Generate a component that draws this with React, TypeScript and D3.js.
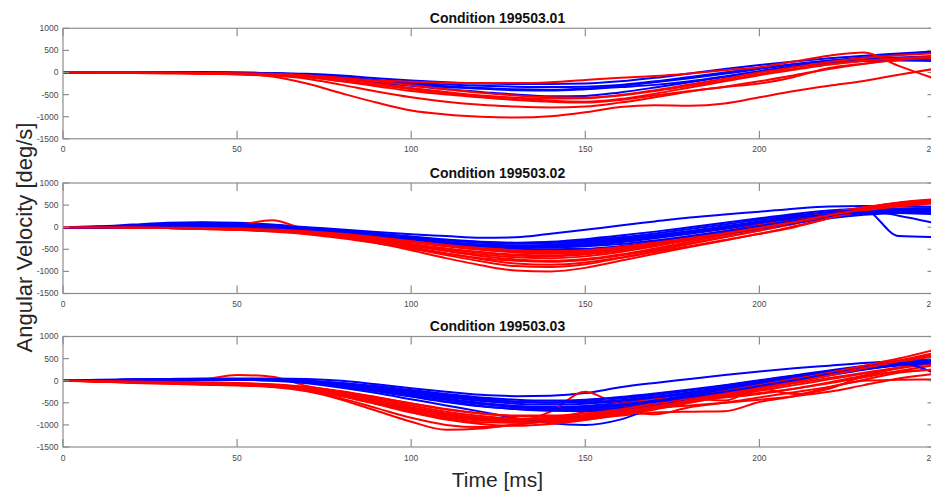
import React from 'react';
import * as d3 from 'd3';

// ---- data ----
const TIME = [0, 10, 20, 30, 40, 50, 60, 70, 80, 90, 100, 110, 120, 130, 140, 150, 160, 170, 180, 190, 200, 210, 220, 230, 240, 250];
const X_TICKS = [0, 50, 100, 150, 200, 250];
const Y_TICKS = [-1500, -1000, -500, 0, 500, 1000];
const TITLES = ['Condition 199503.01', 'Condition 199503.02', 'Condition 199503.03'];

const COND1_RED = [
  [0, 0, -5, -10, -20, -40, -90, -250, -470, -680, -860, -950, -1000, -1020, -990, -900, -780, -740, -750, -700, -560, -420, -300, -190, -50, 80],
  [0, 0, 0, -10, -20, -40, -70, -140, -280, -430, -560, -660, -730, -770, -790, -770, -680, -560, -430, -320, -200, -60, 80, 200, 300, 360],
  [0, 0, -5, -10, -20, -30, -50, -100, -200, -310, -420, -500, -560, -620, -660, -680, -620, -520, -420, -330, -250, -100, 100, 200, 280, 330],
  [0, 0, 0, -10, -10, -20, -40, -80, -150, -250, -350, -440, -520, -580, -640, -660, -600, -480, -340, -200, -60, 60, 180, 270, 330, 380],
  [0, 0, 0, 0, -10, -20, -40, -90, -140, -180, -210, -230, -240, -240, -220, -170, -120, -80, -20, 50, 120, 250, 380, 450, 150, -130],
  [0, 0, -10, -20, -30, -40, -60, -110, -190, -280, -380, -470, -530, -570, -590, -580, -520, -420, -300, -180, -40, 80, 180, 260, 320, 350],
  [0, 0, 0, -10, -10, -20, -30, -60, -120, -200, -290, -380, -460, -520, -560, -570, -510, -400, -270, -140, 0, 120, 240, 330, 390, 430],
];
const COND1_BLUE = [
  [0, 0, 0, 0, 0, 0, -10, -30, -70, -130, -180, -220, -250, -260, -260, -250, -200, -120, -20, 80, 170, 250, 320, 380, 430, 480],
  [0, 0, 0, 0, 0, -10, -30, -80, -150, -230, -300, -380, -440, -500, -540, -530, -450, -340, -220, -100, 20, 130, 220, 280, 300, 280],
  [0, 0, 0, 0, 0, -10, -20, -60, -130, -200, -270, -330, -370, -400, -410, -380, -330, -280, -200, -90, 30, 140, 220, 260, 270, 260],
  [0, 0, 0, 0, 0, 0, -20, -50, -100, -170, -230, -270, -300, -320, -330, -320, -280, -200, -100, 0, 100, 190, 270, 340, 400, 450],
  [0, 0, 0, 0, 0, -10, -20, -50, -110, -180, -250, -310, -350, -380, -390, -360, -300, -220, -130, -30, 80, 180, 260, 310, 340, 350],
];

const COND2_RED = [
  [0, 0, -10, -20, -40, -60, -90, -140, -230, -360, -520, -700, -860, -980, -1000, -920, -760, -600, -450, -300, -150, 0, 200, 400, 550, 620],
  [0, 0, -10, -20, -30, -50, -80, -130, -220, -340, -480, -630, -770, -880, -900, -840, -700, -540, -380, -230, -80, 80, 260, 430, 560, 630],
  [0, 0, -10, -10, -20, 40, 160, -60, -170, -280, -400, -520, -620, -680, -700, -660, -560, -430, -290, -150, 0, 150, 300, 440, 540, 600],
  [0, 0, -10, -20, -30, -40, -70, -120, -200, -300, -420, -540, -650, -730, -760, -720, -620, -480, -330, -180, -40, 100, 260, 400, 500, 560],
  [0, 0, -10, -20, -30, -50, -80, -130, -200, -290, -390, -490, -580, -640, -660, -620, -530, -410, -280, -140, 0, 140, 290, 420, 510, 570],
  [0, 0, 0, -10, -20, -40, -70, -110, -170, -250, -340, -430, -510, -570, -600, -580, -500, -380, -250, -110, 30, 170, 310, 430, 520, 580],
  [0, 0, -10, -20, -40, -60, -100, -160, -250, -360, -480, -600, -700, -760, -780, -740, -640, -510, -370, -220, -70, 80, 240, 390, 510, 580],
  [0, 0, 0, -10, -20, -30, -60, -100, -160, -240, -330, -420, -490, -540, -560, -530, -450, -340, -220, -90, 50, 190, 330, 440, 510, 550],
  [0, 0, -10, -20, -30, -50, -80, -120, -190, -280, -380, -480, -560, -620, -640, -600, -510, -390, -260, -130, 10, 160, 320, 450, 550, 610],
  [0, 0, -10, -10, -20, -40, -60, -100, -160, -240, -320, -400, -470, -520, -540, -520, -460, -370, -260, -140, -20, 110, 250, 380, 470, 530],
  [0, 0, -10, -20, -30, -50, -80, -130, -210, -320, -450, -590, -720, -820, -850, -800, -690, -560, -430, -290, -150, 20, 200, 380, 520, 600],
  [0, 0, 0, -10, -20, -30, -50, -90, -150, -230, -320, -420, -500, -560, -580, -560, -490, -390, -270, -150, -20, 120, 270, 400, 490, 540],
];
const COND2_BLUE = [
  [0, 20, 60, 100, 110, 100, 60, 0, -50, -110, -160, -200, -240, -230, -150, -60, 40, 130, 220, 290, 350, 420, 470, 480, 470, 460],
  [0, 10, 40, 80, 100, 90, 50, -10, -80, -150, -220, -290, -340, -360, -330, -270, -190, -100, 0, 100, 200, 300, 380, 420, 400, 380],
  [0, 0, 20, 40, 50, 40, 10, -40, -110, -190, -270, -340, -400, -420, -400, -350, -280, -190, -90, 20, 130, 240, 330, 380, 400, 390],
  [0, 0, 0, 10, 10, 0, -30, -80, -150, -230, -310, -380, -440, -470, -460, -410, -340, -250, -150, -40, 80, 200, 310, 380, 420, 430],
  [0, 0, 0, 0, 0, -10, -40, -90, -160, -240, -330, -410, -480, -520, -530, -500, -430, -330, -220, -100, 20, 150, 260, 330, 360, 370],
  [0, 0, 10, 30, 40, 30, 0, -50, -120, -200, -280, -360, -420, -450, -440, -390, -320, -230, -130, -20, 100, 210, 300, 350, 370, 360],
  [0, 0, 0, 10, 20, 10, -20, -70, -140, -220, -300, -370, -420, -440, -420, -370, -300, -210, -110, 0, 110, 220, 330, 400, -200, -220],
  [0, 0, -10, -10, -20, -30, -50, -90, -150, -220, -300, -370, -430, -480, -500, -490, -440, -360, -260, -150, -30, 90, 200, 280, 320, 330],
  [0, 0, 0, 0, -10, -20, -40, -80, -140, -210, -280, -340, -390, -410, -400, -360, -300, -220, -120, -10, 100, 200, 280, 330, 320, 300],
  [0, 10, 30, 60, 80, 70, 40, -10, -70, -140, -210, -280, -330, -350, -340, -300, -230, -140, -40, 60, 170, 270, 340, 380, 260, 100],
  [0, 0, 0, 0, 0, -10, -30, -70, -130, -200, -270, -340, -400, -440, -450, -430, -380, -300, -200, -90, 30, 150, 250, 310, 340, 350],
  [0, 0, 10, 20, 30, 20, 0, -40, -100, -170, -240, -300, -350, -370, -360, -320, -260, -180, -90, 10, 110, 210, 290, 340, 360, 350],
];

const COND3_RED = [
  [0, -20, -50, -70, -90, -110, -140, -240, -430, -680, -930, -1110, -1080, -990, -920, -860, -790, -720, -700, -690, -480, -350, -150, 0, 20, 30],
  [0, -10, -40, -60, -80, -100, -130, -220, -400, -620, -840, -1000, -1050, -1000, -900, -800, -700, -620, -560, -500, -430, -350, -250, -100, 50, 150],
  [0, 0, 10, 10, 30, 130, 90, -120, -260, -440, -620, -780, -880, -920, -900, -820, -700, -560, -420, -300, -180, -60, 60, 180, 300, 400],
  [0, -10, -30, -50, -70, -90, -120, -200, -340, -520, -700, -850, -940, -950, -880, -700, -600, -520, -440, -380, -300, -180, -40, 120, 280, 420],
  [0, -10, -30, -40, -60, -80, -110, -190, -330, -500, -680, -820, -900, -920, -700, -250, -520, -400, -440, -360, -280, -180, -60, 80, 220, 350],
  [0, -10, -30, -50, -60, -80, -100, -170, -290, -440, -600, -740, -830, -870, -860, -800, -700, -560, -400, -450, -180, -300, -180, 100, 200, 250],
  [0, -10, -20, -40, -50, -70, -100, -170, -290, -450, -620, -760, -850, -890, -880, -830, -740, -620, -490, -360, -230, -100, 30, 160, 280, 390],
  [0, -10, -30, -50, -70, -90, -120, -200, -330, -490, -650, -780, -860, -880, -850, -780, -680, -560, -420, -280, -140, 0, 140, 280, 420, 550],
  [0, -20, -40, -60, -80, -100, -130, -210, -350, -530, -720, -880, -980, -1020, -980, -890, -760, -620, -470, -320, -170, -20, 130, 280, 430, 600],
  [0, 0, -10, -20, -40, -60, -90, -150, -250, -380, -520, -650, -740, -790, -790, -740, -650, -520, -380, -240, -100, 40, 180, 320, 460, 620],
  [0, -10, -20, -30, -40, -50, -80, -140, -240, -370, -510, -640, -740, -800, -820, -790, -700, -580, -440, -290, -140, 20, 180, 340, 500, 690],
  [0, -10, -30, -50, -60, -80, -110, -180, -300, -450, -610, -760, -870, -940, -940, -880, -780, -650, -500, -350, -200, -40, 120, 280, 440, 600],
  [0, -10, -20, -30, -50, -70, -100, -160, -260, -400, -560, -700, -800, -860, -870, -830, -700, -760, -600, -500, -380, -260, -140, 20, 180, 250],
];
const COND3_BLUE = [
  [0, 20, 30, 40, 50, 50, 50, 40, 0, -80, -170, -250, -320, -350, -340, -280, -150, -50, 40, 130, 210, 280, 340, 400, 440, 480],
  [0, 10, 20, 30, 40, 40, 30, 0, -60, -150, -250, -350, -430, -480, -490, -460, -400, -320, -220, -110, 0, 110, 210, 300, 380, 450],
  [0, 10, 20, 30, 30, 30, 20, -20, -100, -200, -310, -420, -510, -570, -590, -570, -500, -400, -280, -150, -30, 100, 210, 300, 380, 440],
  [0, 0, 10, 20, 20, 20, 10, -40, -130, -240, -360, -480, -580, -640, -670, -640, -560, -450, -320, -190, -60, 70, 190, 290, 370, 430],
  [0, 0, 10, 10, 20, 20, 0, -60, -160, -280, -420, -560, -700, -850, -960, -1000, -880, -600, -400, -250, -120, 20, 150, 280, 380, 450],
  [0, 10, 20, 30, 40, 40, 30, -10, -80, -170, -270, -370, -460, -520, -540, -520, -460, -380, -280, -170, -60, 60, 170, 270, 360, 430],
  [0, 0, 10, 20, 30, 30, 20, -20, -90, -190, -300, -410, -510, -590, -640, -660, -620, -540, -420, -280, -140, 0, 140, 260, 350, 420],
  [0, 10, 20, 30, 40, 40, 30, 0, -50, -120, -210, -300, -380, -430, -450, -430, -370, -290, -200, -100, 10, 120, 230, 330, 410, 480],
  [0, 0, 10, 20, 30, 30, 20, -30, -120, -230, -350, -470, -570, -640, -680, -690, -650, -560, -440, -300, -160, -20, 120, 250, 350, 400],
  [0, 10, 20, 30, 40, 40, 30, -10, -90, -190, -300, -410, -510, -580, -610, -600, -540, -450, -340, -220, -100, 30, 160, 280, 380, 460],
  [0, 10, 20, 30, 40, 40, 30, -10, -70, -150, -240, -330, -410, -470, -500, -490, -440, -360, -260, -150, -30, 90, 210, 320, 400, 180],
  [0, 0, 10, 20, 20, 20, 10, -30, -110, -210, -320, -430, -530, -600, -630, -620, -570, -480, -370, -250, -120, 10, 150, 270, 360, 420],
];

const PANELS = [
  { title: TITLES[0], red: COND1_RED, blue: COND1_BLUE },
  { title: TITLES[1], red: COND2_RED, blue: COND2_BLUE },
  { title: TITLES[2], red: COND3_RED, blue: COND3_BLUE },
];

// ---- layout ----
const W = 931;
const H = 494;
const LEFT = 63;
const RIGHT = 933.5;
const TOPS = [28.3, 183, 336.5];
const PH = 110.5;
const TICK_LEN = 8;
const AXIS_COLOR = '#8e8e8e';
const LABEL_COLOR = '#4a4a4a';
const FONT = '"Liberation Sans", Arial, Helvetica, sans-serif';

const x = d3.scaleLinear().domain([0, 250]).range([LEFT, RIGHT]);

function Panel({ idx, title, red, blue }: { idx: number; title: string; red: number[][]; blue: number[][] }) {
  const top = TOPS[idx];
  const bottom = top + PH;
  const y = d3.scaleLinear().domain([-1500, 1000]).range([bottom, top]);
  const line = d3
    .line<number>()
    .x((_, i) => x(TIME[i]))
    .y((d) => y(d))
    .curve(d3.curveMonotoneX);
  const order: { c: string; d: number[] }[] = [];
  const n = Math.max(red.length, blue.length);
  for (let i = 0; i < n; i++) {
    if (blue[i]) order.push({ c: '#0000ff', d: blue[i] });
    if (red[i]) order.push({ c: '#ff0000', d: red[i] });
  }
  const clipId = `clip${idx}`;
  return (
    <g>
      <defs>
        <clipPath id={clipId}>
          <rect x={LEFT} y={top} width={RIGHT - LEFT} height={PH} />
        </clipPath>
      </defs>
      <g clipPath={`url(#${clipId})`}>
        {order.map((s, i) => (
          <path key={i} d={line(s.d) || ''} fill="none" stroke={s.c} strokeWidth={2} strokeLinejoin="round" />
        ))}
      </g>
      <rect x={LEFT} y={top} width={RIGHT - LEFT} height={PH} fill="none" stroke={AXIS_COLOR} strokeWidth={1.2} />
      {X_TICKS.map((t) => (
        <g key={'x' + t}>
          <line x1={x(t)} x2={x(t)} y1={bottom} y2={bottom - TICK_LEN} stroke={AXIS_COLOR} strokeWidth={1.2} />
          <line x1={x(t)} x2={x(t)} y1={top} y2={top + TICK_LEN} stroke={AXIS_COLOR} strokeWidth={1.2} />
          <text x={x(t)} y={bottom + 13.5} textAnchor="middle" fontSize={8.5} fill={LABEL_COLOR} fontFamily={FONT}>
            {t}
          </text>
        </g>
      ))}
      {Y_TICKS.map((t) => (
        <g key={'y' + t}>
          <line x1={LEFT} x2={LEFT + 6} y1={y(t)} y2={y(t)} stroke={AXIS_COLOR} strokeWidth={1.2} />
          <line x1={RIGHT - 6} x2={RIGHT} y1={y(t)} y2={y(t)} stroke={AXIS_COLOR} strokeWidth={1.2} />
          <text x={58.5} y={y(t)} dy="0.35em" textAnchor="end" fontSize={8.5} fill={LABEL_COLOR} fontFamily={FONT}>
            {t}
          </text>
        </g>
      ))}
      <text x={497.5} y={top - 5.5} textAnchor="middle" fontSize={14} fontWeight="bold" fill="#111" fontFamily={FONT}>
        {title}
      </text>
    </g>
  );
}

export default function App() {
  return (
    <svg width={W} height={H} style={{ position: 'absolute', left: 0, top: 0, display: 'block', background: '#fff' }}>
      <rect x={0} y={0} width={W} height={H} fill="#fff" />
      {PANELS.map((p, i) => (
        <Panel key={i} idx={i} title={p.title} red={p.red} blue={p.blue} />
      ))}
      <text
        transform={`translate(31.5, 237.5) rotate(-90)`}
        textAnchor="middle"
        fontSize={22}
        fill="#262626"
        fontFamily={FONT}
      >
        Angular Velocity [deg/s]
      </text>
      <text x={497.5} y={487} textAnchor="middle" fontSize={21} fill="#262626" fontFamily={FONT}>
        Time [ms]
      </text>
    </svg>
  );
}
